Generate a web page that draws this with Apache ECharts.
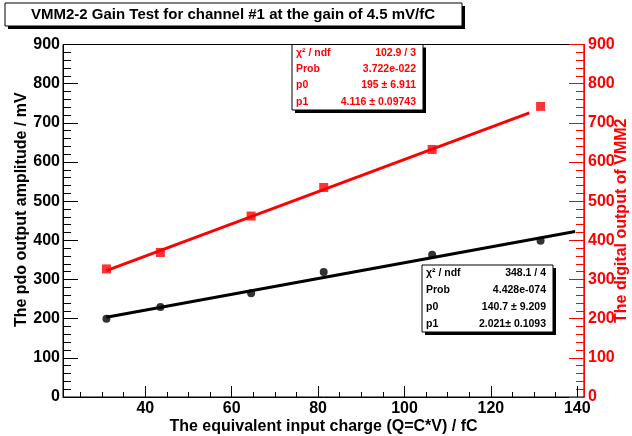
<!DOCTYPE html>
<html>
<head>
<meta charset="utf-8">
<script src="https://cdn.jsdelivr.net/npm/echarts@6.0.0/dist/echarts.min.js"></script>
<style>
html,body{margin:0;padding:0;background:#fff;}
#c{width:632px;height:436px;}
</style>
</head>
<body>
<div id="c"></div>
<script>
// ---- data ----
const titleText = "VMM2-2 Gain Test for channel #1 at the gain of 4.5 mV/fC";
const xTitle = "The equivalent input charge (Q=C*V) / fC";
const yLeftTitle = "The pdo output amplitude / mV";
const yRightTitle = "The digital output of VMM2";

const chargeFC = [31, 43.5, 64.5, 81.3, 106.4, 131.5];
const pdoAmplitude = [200, 230, 265, 319, 363, 399];
const digitalOutput = [327, 369, 462, 535, 632, 742];

// fitted straight lines (end points)
const pdoFitX = [31, 139.5];
const pdoFitY = [203.4, 422.6];
const digitalFitX = [31, 128.9];
const digitalFitY = [322.6, 725.6];

const xMajorTicks = [40, 60, 80, 100, 120, 140];
const xMinorTicks = [25, 30, 35, 45, 50, 55, 65, 70, 75, 85, 90, 95, 105, 110, 115, 125, 130, 135];

const digitalStats = [["χ² / ndf", "102.9 / 3"], ["Prob", "3.722e-022"], ["p0", "195 ± 6.911"], ["p1", "4.116 ± 0.09743"]];
const pdoStats = [["χ² / ndf", "348.1 / 4"], ["Prob", "4.428e-074"], ["p0", "140.7 ± 9.209"], ["p1", "2.021± 0.1093"]];

// ---- build chart ----
const FONT = '"Liberation Sans", Arial, sans-serif';
const toPairs = (xs, ys) => xs.map((x, i) => [x, ys[i]]);

function statsBox(x, y, w, h, rows, color) {
  const els = [
    {type: 'rect', shape: {x: x + 3, y: y + 3, width: w, height: h}, style: {fill: '#000'}, z: 100},
    {type: 'rect', shape: {x: x, y: y, width: w, height: h}, style: {fill: '#fff', stroke: '#000', lineWidth: 1}, z: 101}
  ];
  const rh = h / rows.length;
  rows.forEach((r, i) => {
    const cy = y + rh * (i + 0.5);
    els.push({type: 'text', x: x + 4, y: cy, z: 102,
      style: {text: r[0], fill: color, fontSize: 10.5, fontWeight: 'bold', fontFamily: FONT, align: 'left', verticalAlign: 'middle'}});
    els.push({type: 'text', x: x + w - 7, y: cy, z: 102,
      style: {text: r[1], fill: color, fontSize: 10.5, fontWeight: 'bold', fontFamily: FONT, align: 'right', verticalAlign: 'middle'}});
  });
  return els;
}

const chart = echarts.init(document.getElementById('c'), null, {renderer: 'canvas'});
const axisLabelStyle = {fontSize: 16, fontWeight: 'bold', fontFamily: FONT};

const option = {
  animation: false,
  backgroundColor: '#fff',
  grid: {left: 63, right: 48, top: 44.5, bottom: 39, containLabel: false, outerBoundsMode: 'none',
         show: true, borderColor: '#000', borderWidth: 1, backgroundColor: 'transparent'},
  xAxis: [
    {
      type: 'value', min: 20.95, max: 141.55, position: 'bottom',
      name: xTitle, nameLocation: 'middle', nameGap: 22, nameMoveOverlap: false,
      nameTextStyle: Object.assign({color: '#000'}, axisLabelStyle),
      axisLine: {show: true, lineStyle: {color: '#000', width: 1}},
      axisTick: {show: true, inside: true, length: 11, customValues: xMajorTicks, lineStyle: {color: '#000', width: 1}},
      axisLabel: Object.assign({show: true, customValues: xMajorTicks, color: '#000', margin: 4}, axisLabelStyle),
      splitLine: {show: false}
    },
    {
      type: 'value', min: 20.95, max: 141.55, position: 'bottom',
      axisLine: {show: false},
      axisTick: {show: true, inside: true, length: 5, customValues: xMinorTicks, lineStyle: {color: '#000', width: 1}},
      axisLabel: {show: false},
      splitLine: {show: false}
    }
  ],
  yAxis: [
    {
      type: 'value', min: 0, max: 900, interval: 100, position: 'left',
      name: yLeftTitle, nameLocation: 'middle', nameGap: 33, nameRotate: 90, nameMoveOverlap: false,
      nameTextStyle: Object.assign({color: '#000', padding: [0, 0, 0, 22]}, axisLabelStyle),
      axisLine: {show: true, lineStyle: {color: '#000', width: 1}},
      axisTick: {show: true, inside: true, length: 15, lineStyle: {color: '#000', width: 1}},
      minorTick: {show: true, splitNumber: 5, length: 8, lineStyle: {color: '#000', width: 1}},
      axisLabel: Object.assign({color: '#000', margin: 3}, axisLabelStyle),
      splitLine: {show: false}
    },
    {
      type: 'value', min: 0, max: 900, interval: 100, position: 'right',
      name: yRightTitle, nameLocation: 'middle', nameGap: 30, nameRotate: 90, nameMoveOverlap: false,
      nameTextStyle: Object.assign({color: '#ff0000'}, axisLabelStyle),
      axisLine: {show: true, lineStyle: {color: '#ff0000', width: 1}},
      axisTick: {show: true, inside: true, length: 15, lineStyle: {color: '#ff0000', width: 1}},
      minorTick: {show: true, splitNumber: 5, length: 8, lineStyle: {color: '#ff0000', width: 1}},
      axisLabel: Object.assign({color: '#ff0000', margin: 4}, axisLabelStyle),
      splitLine: {show: false}
    }
  ],
  series: [
    {type: 'line', xAxisIndex: 0, yAxisIndex: 0, data: toPairs(pdoFitX, pdoFitY), symbol: 'none',
     lineStyle: {color: '#000', width: 3}, z: 3, silent: true},
    {type: 'scatter', xAxisIndex: 0, yAxisIndex: 0, data: toPairs(chargeFC, pdoAmplitude), symbol: 'circle', symbolSize: 8,
     itemStyle: {color: '#000'}, z: 4},
    {type: 'line', xAxisIndex: 0, yAxisIndex: 1, data: toPairs(digitalFitX, digitalFitY), symbol: 'none',
     lineStyle: {color: '#ff0000', width: 3}, z: 3, silent: true},
    {type: 'scatter', xAxisIndex: 0, yAxisIndex: 1, data: toPairs(chargeFC, digitalOutput), symbol: 'rect', symbolSize: 9,
     itemStyle: {color: '#ff0000'}, z: 4}
  ],
  graphic: [
    {type: 'rect', shape: {x: 8, y: 6, width: 457, height: 23}, style: {fill: '#000'}, z: 100},
    {type: 'rect', shape: {x: 5, y: 3, width: 457, height: 23}, style: {fill: '#fff', stroke: '#000', lineWidth: 1}, z: 101},
    {type: 'text', x: 233, y: 15, z: 102,
     style: {text: titleText, fill: '#000', fontSize: 15, fontWeight: 'bold', fontFamily: FONT, align: 'center', verticalAlign: 'middle'}}
  ].concat(statsBox(292, 44.5, 131, 65.5, digitalStats, '#ff0000'))
   .concat(statsBox(422, 265, 131, 67, pdoStats, '#000'))
};
chart.setOption(option);
</script>
</body>
</html>
